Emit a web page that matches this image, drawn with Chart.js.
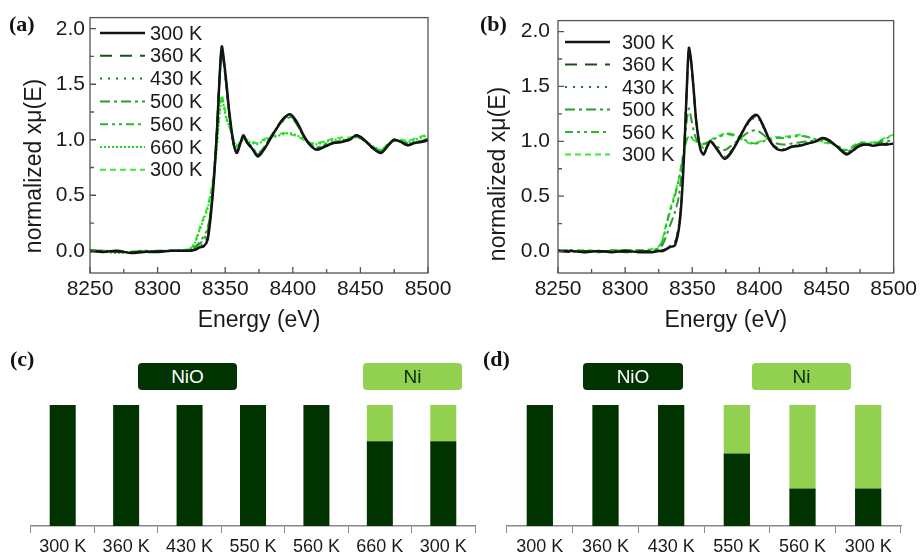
<!DOCTYPE html>
<html>
<head>
<meta charset="utf-8">
<script src="https://cdn.jsdelivr.net/npm/chart.js@4.4.1/dist/chart.umd.min.js"></script>
<style>
  body { margin: 0; background: #fff; width: 921px; height: 554px; position: relative; overflow: hidden; font-family: "Liberation Sans", Arial, sans-serif; }
  canvas { position: absolute; }
  .tag { position: absolute; font-family: "Liberation Serif", "Times New Roman", serif; font-weight: bold; font-size: 22px; color: #111; }
  .box { position: absolute; height: 27px; line-height: 27px; border-radius: 4px; text-align: center; font-size: 19px; }
  .nio { background: #003300; color: #fff; }
  .ni { background: #92d050; color: #0b2a0b; }
</style>
</head>
<body>
<canvas id="chart_a" width="460" height="340" style="left:0;top:0"></canvas>
<canvas id="chart_b" width="461" height="340" style="left:460px;top:0"></canvas>
<canvas id="chart_c" width="480" height="214" style="left:0;top:340px"></canvas>
<canvas id="chart_d" width="441" height="214" style="left:480px;top:340px"></canvas>

<div class="tag" style="left:9px;top:11px">(a)</div>
<div class="tag" style="left:480px;top:11px">(b)</div>
<div class="tag" style="left:10px;top:346px">(c)</div>
<div class="tag" style="left:483px;top:346px">(d)</div>
<div class="box nio" style="left:138px;top:363px;width:99px">NiO</div>
<div class="box ni" style="left:363px;top:363px;width:99px">Ni</div>
<div class="box nio" style="left:583px;top:363px;width:100px">NiO</div>
<div class="box ni" style="left:752px;top:363px;width:99px">Ni</div>

<script>
// energy grid (eV)
var energy = [8250, 8260, 8270, 8280, 8290, 8300, 8310, 8320, 8325, 8328, 8331, 8334, 8337, 8340, 8342, 8344, 8346, 8347.5, 8349, 8351,
  8353, 8356, 8358.5, 8361, 8363.5, 8366, 8370, 8374, 8378, 8383, 8388, 8393, 8398, 8403, 8408, 8413, 8418, 8424, 8430, 8436,
  8442, 8447, 8452, 8458, 8465, 8470, 8475, 8480, 8485, 8490, 8495, 8500];

// panel (a)
var a300 = [0.00,-0.01,0.00,-0.02,-0.01,-0.01,0.00,0.00,0.00,0.01,0.03,0.04,0.10,0.40,0.70,1.10,1.60,1.84,1.72,1.50,1.25,0.98,0.88,0.96,1.04,0.98,0.92,0.85,0.90,1.00,1.10,1.19,1.23,1.16,1.04,0.95,0.91,0.94,0.97,0.98,1.00,1.04,1.01,0.94,0.88,0.94,1.00,0.98,0.95,0.97,0.98,1.00];
var a360 = [0.00,0.00,-0.01,-0.01,-0.01,0.00,0.00,0.00,0.01,0.01,0.03,0.05,0.12,0.42,0.72,1.12,1.60,1.83,1.71,1.48,1.24,0.97,0.88,0.96,1.03,0.98,0.91,0.86,0.91,1.01,1.11,1.19,1.22,1.15,1.03,0.95,0.92,0.94,0.97,0.98,1.01,1.04,1.00,0.93,0.89,0.95,1.00,0.98,0.95,0.97,0.98,0.99];
var a430 = [-0.01,0.00,0.00,-0.01,0.00,-0.01,0.00,0.01,0.01,0.02,0.04,0.06,0.14,0.44,0.74,1.13,1.58,1.82,1.70,1.47,1.23,0.97,0.89,0.96,1.02,0.98,0.92,0.86,0.91,1.01,1.10,1.18,1.22,1.15,1.03,0.96,0.92,0.95,0.97,0.98,1.00,1.03,1.00,0.94,0.89,0.95,0.99,0.98,0.96,0.97,0.99,1.00];
var a500 = [0.00,-0.01,-0.01,-0.01,0.00,-0.01,0.00,0.00,0.01,0.03,0.06,0.10,0.18,0.45,0.74,1.12,1.57,1.80,1.69,1.46,1.22,0.97,0.90,0.96,1.02,0.98,0.93,0.87,0.92,1.01,1.10,1.18,1.21,1.14,1.03,0.96,0.93,0.95,0.97,0.99,1.00,1.03,1.00,0.94,0.89,0.95,0.99,0.98,0.96,0.98,0.99,1.01];
var a560 = [0.00,0.00,-0.01,-0.02,-0.01,0.00,0.00,0.00,0.02,0.04,0.08,0.13,0.20,0.46,0.75,1.12,1.56,1.79,1.68,1.45,1.22,0.98,0.91,0.97,1.02,0.99,0.93,0.88,0.92,1.01,1.10,1.17,1.20,1.14,1.03,0.96,0.93,0.96,0.98,0.99,1.01,1.03,1.00,0.94,0.90,0.95,0.99,0.98,0.97,0.98,0.99,1.01];
var a660 = [0.00,-0.01,-0.02,-0.01,-0.01,-0.01,0.00,0.00,0.02,0.08,0.18,0.28,0.38,0.55,0.72,0.95,1.25,1.38,1.30,1.18,1.12,1.00,0.94,0.97,1.00,0.99,0.97,0.96,0.99,1.02,1.03,1.05,1.06,1.04,1.01,0.97,0.96,0.98,1.00,1.00,1.01,1.02,1.00,0.95,0.91,0.95,0.99,0.99,0.98,1.00,1.02,1.04];
var a300b = [0.01,0.00,-0.01,-0.01,0.00,-0.01,0.00,0.01,0.03,0.09,0.20,0.30,0.40,0.57,0.75,0.98,1.28,1.40,1.32,1.20,1.12,1.01,0.95,0.98,1.01,1.00,0.98,0.97,1.00,1.03,1.04,1.06,1.05,1.03,1.00,0.97,0.97,0.99,1.01,1.02,1.02,1.03,1.00,0.95,0.91,0.96,1.00,1.00,0.99,1.01,1.03,1.05];

// panel (b)
var b300 = [0.00,0.00,-0.01,0.00,-0.01,0.00,-0.01,-0.01,0.00,0.00,0.02,0.04,0.05,0.20,0.45,0.90,1.50,1.85,1.75,1.48,1.18,0.93,0.88,0.95,1.00,0.97,0.90,0.84,0.88,0.98,1.10,1.20,1.24,1.14,1.00,0.93,0.92,0.95,0.96,0.98,1.00,1.03,1.01,0.95,0.88,0.92,0.96,0.97,0.96,0.97,0.97,0.98];
var b360 = [0.00,-0.01,0.00,-0.01,0.00,-0.01,0.00,0.00,0.00,0.01,0.02,0.04,0.07,0.22,0.47,0.92,1.50,1.84,1.74,1.47,1.18,0.94,0.88,0.95,1.00,0.97,0.90,0.85,0.89,0.99,1.10,1.19,1.23,1.13,1.00,0.94,0.92,0.95,0.97,0.98,1.00,1.03,1.00,0.95,0.89,0.92,0.96,0.97,0.96,0.97,0.98,0.98];
var b430 = [0.01,0.00,-0.01,0.00,0.00,-0.01,0.00,0.00,0.01,0.01,0.03,0.05,0.08,0.24,0.50,0.94,1.50,1.82,1.72,1.46,1.18,0.94,0.89,0.95,0.99,0.97,0.91,0.86,0.90,0.99,1.09,1.18,1.22,1.13,1.01,0.94,0.93,0.95,0.97,0.98,1.00,1.02,1.00,0.95,0.89,0.93,0.97,0.97,0.96,0.98,0.98,0.99];
var b500 = [0.00,0.00,-0.01,0.00,0.00,0.01,0.00,0.00,0.02,0.06,0.15,0.25,0.35,0.50,0.70,0.95,1.20,1.30,1.22,1.10,1.02,0.97,0.94,0.98,1.00,0.98,0.94,0.92,0.95,1.00,1.05,1.09,1.10,1.06,1.01,0.98,0.97,0.98,0.99,1.00,1.01,1.02,1.00,0.95,0.90,0.94,0.98,0.98,0.97,0.99,1.00,1.01];
var b560 = [0.00,0.01,0.00,-0.01,0.01,0.00,0.01,0.01,0.03,0.10,0.25,0.38,0.50,0.65,0.78,0.92,1.02,1.05,1.04,1.02,1.00,0.99,0.98,0.99,1.00,1.02,1.04,1.06,1.07,1.05,1.02,0.99,0.98,1.00,1.02,1.03,1.03,1.04,1.05,1.04,1.02,1.00,0.99,0.96,0.92,0.95,0.98,0.98,0.98,1.00,1.03,1.05];
var b300b = [0.01,0.00,0.01,0.00,0.00,0.01,0.00,0.02,0.04,0.12,0.27,0.40,0.52,0.66,0.80,0.93,1.02,1.04,1.03,1.01,1.00,0.98,0.97,0.99,1.01,1.03,1.05,1.07,1.06,1.04,1.01,0.98,0.99,1.01,1.03,1.04,1.04,1.05,1.06,1.04,1.01,0.99,0.98,0.95,0.92,0.96,0.99,0.99,0.99,1.01,1.04,1.06];

// bar panels
var labelsC = ["300 K", "360 K", "430 K", "550 K", "560 K", "660 K", "300 K"];
var nioC = [1, 1, 1, 1, 1, 0.70, 0.70];
var niC = [0, 0, 0, 0, 0, 0.30, 0.30];
var labelsD = ["300 K", "360 K", "430 K", "550 K", "560 K", "300 K"];
var nioD = [1, 1, 1, 0.60, 0.31, 0.31];
var niD = [0, 0, 0, 0.40, 0.69, 0.69];

var energyTicks = [8250, 8300, 8350, 8400, 8450, 8500];
var muTicks = [0, 0.5, 1.0, 1.5, 2.0];

var fontFam = '"Liberation Sans", Arial, sans-serif';

function pts(vals) {
  return vals.map(function (v, i) { return { x: energy[i], y: v }; });
}

function line(label, vals, color, dash, width) {
  return {
    label: label,
    data: pts(vals),
    borderColor: color,
    borderWidth: width || 2,
    borderDash: dash,
    pointRadius: 0,
    tension: 0.3,
    fill: false
  };
}

var lineLegend = {
  id: 'lineLegend',
  afterDraw: function (chart, args, o) {
    var ctx = chart.ctx;
    ctx.save();
    chart.data.datasets.forEach(function (ds, i) {
      var y = o.y + i * o.gap;
      ctx.strokeStyle = ds.borderColor;
      ctx.lineWidth = ds.borderWidth;
      ctx.setLineDash(ds.borderDash || []);
      ctx.beginPath();
      ctx.moveTo(o.x, y);
      ctx.lineTo(o.x + o.len, y);
      ctx.stroke();
      ctx.setLineDash([]);
      ctx.fillStyle = '#1a1a1a';
      ctx.font = '20px ' + fontFam;
      ctx.textBaseline = 'middle';
      ctx.fillText(ds.label, o.x + o.len + o.pad, y + 1);
    });
    // y axis title, sits a bit below the middle of the axis in the original
    ctx.translate(o.titleX, o.titleY);
    ctx.rotate(-Math.PI / 2);
    ctx.textAlign = 'center';
    ctx.textBaseline = 'middle';
    ctx.font = '23px ' + fontFam;
    ctx.fillText('normalized xμ(E)', 0, 0);
    ctx.restore();
  }
};

// box round the plot and the small inner ticks
var frame = {
  id: 'frame',
  afterDraw: function (chart) {
    var ctx = chart.ctx, a = chart.chartArea, x = chart.scales.x, y = chart.scales.y;
    ctx.save();
    ctx.strokeStyle = '#555';
    ctx.lineWidth = 1.3;
    ctx.strokeRect(a.left, a.top, a.right - a.left, a.bottom - a.top);
    ctx.beginPath();
    for (var e = 8250; e <= 8500; e += 25) {
      var px = x.getPixelForValue(e);
      var len = e % 50 === 0 ? 6 : 4;
      ctx.moveTo(px, a.bottom);
      ctx.lineTo(px, a.bottom - len);
    }
    for (var v = 0; v <= 2.0; v += 0.25) {
      var py = y.getPixelForValue(v);
      var l2 = (Math.round(v * 4) % 2 === 0) ? 6 : 4;
      ctx.moveTo(a.left, py);
      ctx.lineTo(a.left + l2, py);
    }
    ctx.stroke();
    ctx.restore();
  }
};

function xasChart(id, datasets, yWidth, padRight, tickPad, legend) {
  return new Chart(document.getElementById(id), {
    type: 'line',
    data: { datasets: datasets },
    plugins: [frame, lineLegend],
    options: {
      responsive: false,
      animation: false,
      layout: { padding: { left: 0, right: padRight, top: 12, bottom: 0 } },
      plugins: { legend: { display: false }, tooltip: { enabled: false }, lineLegend: legend },
      scales: {
        x: {
          type: 'linear', min: 8250, max: 8500,
          afterFit: function (s) { s.height = 67; },
          afterBuildTicks: function (s) { s.ticks = energyTicks.map(function (v) { return { value: v }; }); },
          grid: { display: false, drawTicks: false },
          border: { display: false },
          ticks: { padding: 4, color: '#1a1a1a', font: { size: 21, family: fontFam }, maxRotation: 0, callback: function (v) { return String(v); } },
          title: { display: true, text: 'Energy (eV)', color: '#1a1a1a', padding: { top: 0, bottom: 6 }, font: { size: 23, family: fontFam } }
        },
        y: {
          min: -0.2, max: 2.1,
          afterFit: function (s) { s.width = yWidth; },
          afterBuildTicks: function (s) { s.ticks = muTicks.map(function (v) { return { value: v }; }); },
          grid: { display: false, drawTicks: false },
          border: { display: false },
          ticks: { padding: tickPad, color: '#1a1a1a', font: { size: 21, family: fontFam }, callback: function (v) { return Number(v).toFixed(1); } }
        }
      }
    }
  });
}

var cBlack = '#141414', c360 = '#1d4f1d', c430 = '#2b7a2b', c500 = '#2f9a2f', c560 = '#2db52d', c660 = '#22d422', cLast = '#33ee33';

xasChart('chart_a', [
  line('300 K', a300, cBlack, [], 2.5),
  line('360 K', a360, c360, [12, 8]),
  line('430 K', a430, c430, [2, 6]),
  line('500 K', a500, c500, [10, 4, 3, 4]),
  line('560 K', a560, c560, [8, 4, 3, 4, 3, 4]),
  line('660 K', a660, c660, [2, 2]),
  line('300 K', a300b, cLast, [6, 4])
], 90, 32, 5, { x: 100, y: 33, gap: 22.8, len: 45, pad: 5, titleX: 35, titleY: 166 });

xasChart('chart_b', [
  line('300 K', b300, cBlack, [], 2.5),
  line('360 K', b360, c360, [12, 8]),
  line('430 K', b430, c430, [2, 6]),
  line('500 K', b500, c500, [10, 4, 3, 4]),
  line('560 K', b560, c560, [8, 4, 3, 4, 3, 4]),
  line('300 K', b300b, cLast, [6, 4])
], 98, 24, 8, { x: 105, y: 42, gap: 22.5, len: 45, pad: 12, titleX: 39, titleY: 174 });

function barChart(id, labels, nio, ni, padLeft, padRight, barPct) {
  return new Chart(document.getElementById(id), {
    type: 'bar',
    data: {
      labels: labels,
      datasets: [
        { label: 'NiO', data: nio, backgroundColor: '#003300', barPercentage: barPct, categoryPercentage: 1 },
        { label: 'Ni', data: ni, backgroundColor: '#92d050', barPercentage: barPct, categoryPercentage: 1 }
      ]
    },
    options: {
      responsive: false,
      animation: false,
      layout: { padding: { left: padLeft, right: padRight, top: 65, bottom: 0 } },
      plugins: { legend: { display: false }, tooltip: { enabled: false } },
      scales: {
        x: {
          stacked: true,
          afterFit: function (s) { s.height = 28; },
          grid: { drawOnChartArea: false, drawTicks: true, tickLength: 7, color: '#888', offset: true },
          border: { display: true, color: '#888', width: 1.5 },
          ticks: { padding: 3, color: '#1a1a1a', font: { size: 18, family: fontFam }, maxRotation: 0 }
        },
        y: { stacked: true, display: false, min: 0, max: 1 }
      }
    }
  });
}

barChart('chart_c', labelsC, nioC, niC, 31, 5, 0.41);
barChart('chart_d', labelsD, nioD, niD, 27, 20, 0.40);
</script>
</body>
</html>
